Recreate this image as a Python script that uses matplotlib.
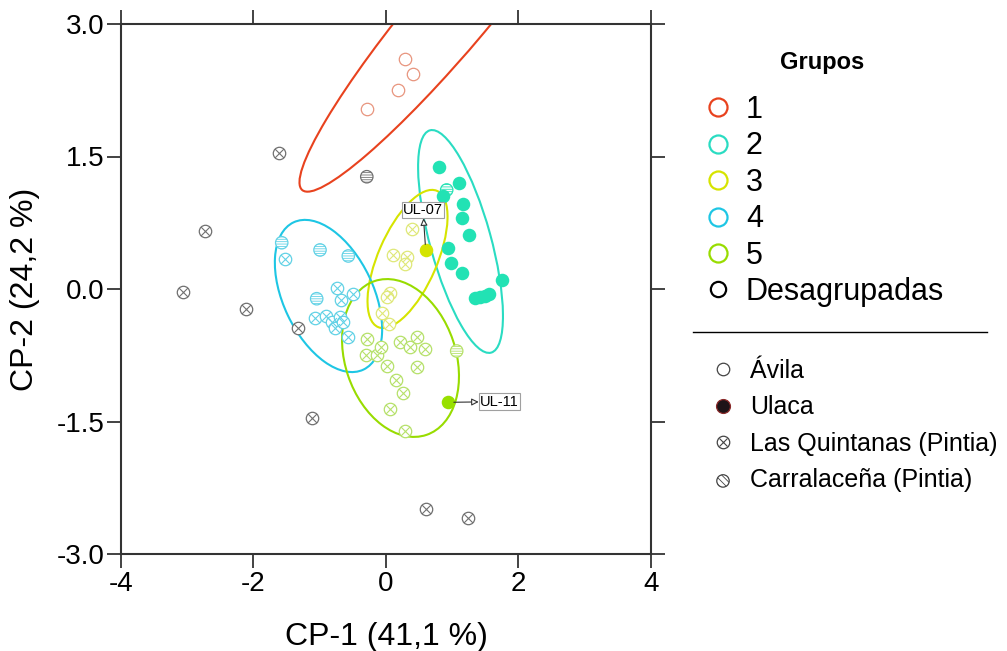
import numpy as np
import matplotlib
matplotlib.use("Agg")
import matplotlib.pyplot as plt
from matplotlib.patches import Ellipse
from matplotlib.lines import Line2D
from matplotlib.transforms import Affine2D

plt.rcParams['font.family'] = ['Liberation Sans', 'DejaVu Sans']
plt.rcParams['axes.unicode_minus'] = False
plt.rcParams['hatch.linewidth'] = 0.6
plt.rcParams['hatch.color'] = '#555555'

# ---- data (CP-1, CP-2) and site codes: A Avila, U Ulaca, Q Las Quintanas, C Carralacena
g1_x = [0.29, 0.41, 0.18, -0.29]
g1_y = [2.60, 2.43, 2.25, 2.04]
g1_s = ['A', 'A', 'A', 'A']

g2_x = [0.80, 1.106, 0.865, 1.158, 1.143, 1.253, 0.940, 0.977, 1.152, 1.755,
        1.343, 1.419, 1.494, 1.555, 0.916]
g2_y = [1.385, 1.197, 1.056, 0.959, 0.807, 0.611, 0.468, 0.291, 0.185, 0.102,
        -0.105, -0.091, -0.074, -0.057, 1.121]
g2_s = ['U'] * 14 + ['C']

g3_x = [0.388, 0.110, 0.312, 0.287, 0.060, 0.011, -0.060, 0.038, 0.599]
g3_y = [0.676, 0.385, 0.359, 0.283, -0.049, -0.094, -0.268, -0.391, 0.442]
g3_s = ['Q'] * 8 + ['U']

g4_x = [-1.574, -1.525, -0.996, -0.569, -0.744, -0.494, -1.046, -0.679,
        -1.072, -0.910, -0.820, -0.770, -0.694, -0.645, -0.569]
g4_y = [0.524, 0.340, 0.442, 0.374, 0.008, -0.057, -0.110, -0.125,
        -0.325, -0.302, -0.370, -0.445, -0.314, -0.370, -0.547]
g4_s = ['C', 'Q', 'C', 'C', 'Q', 'Q', 'C', 'Q', 'Q', 'Q', 'Q', 'Q', 'Q', 'Q', 'Q']

g5_x = [-0.291, -0.302, -0.140, -0.080, 0.011, 0.211, 0.362, 0.463, 0.589,
        0.472, 0.151, 0.261, 0.060, 0.287, 1.067, 0.940]
g5_y = [-0.569, -0.747, -0.747, -0.660, -0.868, -0.600, -0.662, -0.547, -0.683,
        -0.880, -1.030, -1.183, -1.359, -1.611, -0.702, -1.283]
g5_s = ['Q'] * 14 + ['C', 'U']

g0_x = [-1.61, -0.29, -2.732, -3.069, -2.113, -1.328, -1.112, 0.599, 1.243]
g0_y = [1.536, 1.271, 0.657, -0.038, -0.230, -0.438, -1.464, -2.494, -2.596]
g0_s = ['Q', 'C', 'Q', 'Q', 'Q', 'Q', 'Q', 'Q', 'Q']

# ellipses: centre (data), width, height (x units), angle (deg, on screen)
ell_cx = [1.04, 1.125, 0.325, -0.868, 0.219]
ell_cy = [3.18, 0.538, 0.340, -0.079, -0.781]
ell_w = [7.17, 3.48, 2.24, 2.46, 2.45]
ell_h = [1.15, 0.92, 0.89, 1.36, 1.67]
ell_ang = [50, 105.4, 66.6, 115.4, 108.6]

labels_ul = ['UL-07', 'UL-11']

line_cols = ['#e8421e', '#2adcc2', '#d6e400', '#1ec6e4', '#98dc00']
pt_cols = ['#e8957e', '#22e2b4', '#dfe878', '#62d2e6', '#b6e16a']
full_cols = ['#e8421e', '#22e2b4', '#d4e400', '#1ec6e4', '#98e000']
grey = '#707070'

fig = plt.figure(figsize=(10.07, 6.51), dpi=100)
ax = fig.add_axes([121 / 1007, 97 / 651, 530 / 1007, 530 / 651])
ax.set_xlim(-4, 4)
ax.set_ylim(-3, 3)

k = 6 / 8  # y/x ratio, axes are square on screen
iso = Affine2D().scale(1, k) + ax.transData
for i in range(5):
    e = Ellipse((ell_cx[i], ell_cy[i] / k), ell_w[i], ell_h[i], angle=ell_ang[i],
                fill=False, ec=line_cols[i], lw=1.5, transform=iso, zorder=2)
    ax.add_patch(e)


def draw_points(xs, ys, ss, col, fullcol):
    xs = np.array(xs)
    ys = np.array(ys)
    ss = np.array(ss)
    m = ss == 'A'
    ax.scatter(xs[m], ys[m], s=80, facecolor='white', edgecolor=col, lw=0.9, zorder=3)
    m = ss == 'Q'
    ax.scatter(xs[m], ys[m], s=80, facecolor='white', edgecolor=col, lw=0.9, zorder=3)
    ax.scatter(xs[m], ys[m], s=40, marker='x', color=col, lw=0.8, zorder=3)
    m = ss == 'C'
    ax.scatter(xs[m], ys[m], s=80, facecolor='white', edgecolor=col, lw=0.9,
               hatch='-------', zorder=3)
    m = ss == 'U'
    ax.scatter(xs[m], ys[m], s=95, color=fullcol, lw=0, zorder=4)


groups = [(g1_x, g1_y, g1_s), (g2_x, g2_y, g2_s), (g3_x, g3_y, g3_s),
          (g4_x, g4_y, g4_s), (g5_x, g5_y, g5_s)]
for i, (gx, gy, gs) in enumerate(groups):
    draw_points(gx, gy, gs, pt_cols[i], full_cols[i])
draw_points(g0_x, g0_y, g0_s, grey, grey)

box = dict(boxstyle='square,pad=0.08', fc='white', ec='#a0a0a0', lw=0.8)
arr = dict(arrowstyle='<|-,head_length=0.4,head_width=0.2', fc='white', ec='#333333',
           lw=0.8, shrinkA=0, shrinkB=4)
ax.annotate(labels_ul[0], xy=(g3_x[-1], g3_y[-1]), xytext=(-2, 29),
            textcoords='offset points', ha='center', va='center', fontsize=10.5,
            bbox=box, arrowprops=arr, zorder=6)
ax.annotate(labels_ul[1], xy=(g5_x[-1], g5_y[-1]), xytext=(37, 0.5),
            textcoords='offset points', ha='center', va='center', fontsize=10.5,
            bbox=box, arrowprops=arr, zorder=6)

ax.set_xticks([-4, -2, 0, 2, 4])
ax.set_yticks([-3, -1.5, 0, 1.5, 3])
ax.set_yticklabels(['-3.0', '-1.5', '0.0', '1.5', '3.0'])
ax.tick_params(direction='out', length=10, width=1.2, labelsize=20, pad=2,
               top=True, right=True, colors='#222222')
ax.tick_params(labelcolor='black')
for sp in ax.spines.values():
    sp.set_linewidth(1.5)
    sp.set_color('#333333')
ax.set_xlabel('CP-1 (41,1 %)', fontsize=23, labelpad=18)
ax.set_ylabel('CP-2 (24,2 %)', fontsize=23, labelpad=12)

# legend of groups
grp_names = ['1', '2', '3', '4', '5', 'Desagrupadas']
h1 = [Line2D([], [], ls='', marker='o', mfc='none', mec=c, ms=13, mew=1.6)
      for c in line_cols]
h1.append(Line2D([], [], ls='', marker='o', mfc='none', mec='black', ms=11, mew=1.6))
fig.text(822 / 1007, 1 - 62 / 651, 'Grupos', ha='center', va='center',
         fontsize=17, fontweight='bold')
leg1 = fig.legend(h1, grp_names, loc='upper left', bbox_to_anchor=(700 / 1007, 1 - 95 / 651),
                  frameon=False, fontsize=22, labelspacing=0.21, handletextpad=0.3,
                  handlelength=1.2, borderpad=0, borderaxespad=0)

fig.add_artist(Line2D([693 / 1007, 987 / 1007], [1 - 332 / 651, 1 - 332 / 651],
                      color='black', lw=1))

# legend of sites
site_names = ['Ávila', 'Ulaca', 'Las Quintanas (Pintia)', 'Carralaceña (Pintia)']
hA = Line2D([], [], ls='', marker='o', mfc='white', mec='#444444', ms=9, mew=0.9)
hU = Line2D([], [], ls='', marker='o', mfc='#1e1418', mec='#8a2a2a', ms=10, mew=0.9)
hQ = (Line2D([], [], ls='', marker='o', mfc='white', mec='#444444', ms=9, mew=0.9),
      Line2D([], [], ls='', marker='x', mec='#444444', ms=6.3, mew=0.8))
hC = ax.scatter([], [], s=80, facecolor='white', edgecolor='#444444', lw=0.9,
                hatch='\\\\\\\\\\')
leg2 = fig.legend([hA, hU, hQ, hC], site_names, loc='upper left',
                  bbox_to_anchor=(708 / 1007, 1 - 359 / 651), frameon=False, fontsize=18,
                  labelspacing=0.5, handletextpad=0.5, handlelength=1.2,
                  borderpad=0, borderaxespad=0, scatterpoints=1)

fig.savefig('out.png', dpi=100)
